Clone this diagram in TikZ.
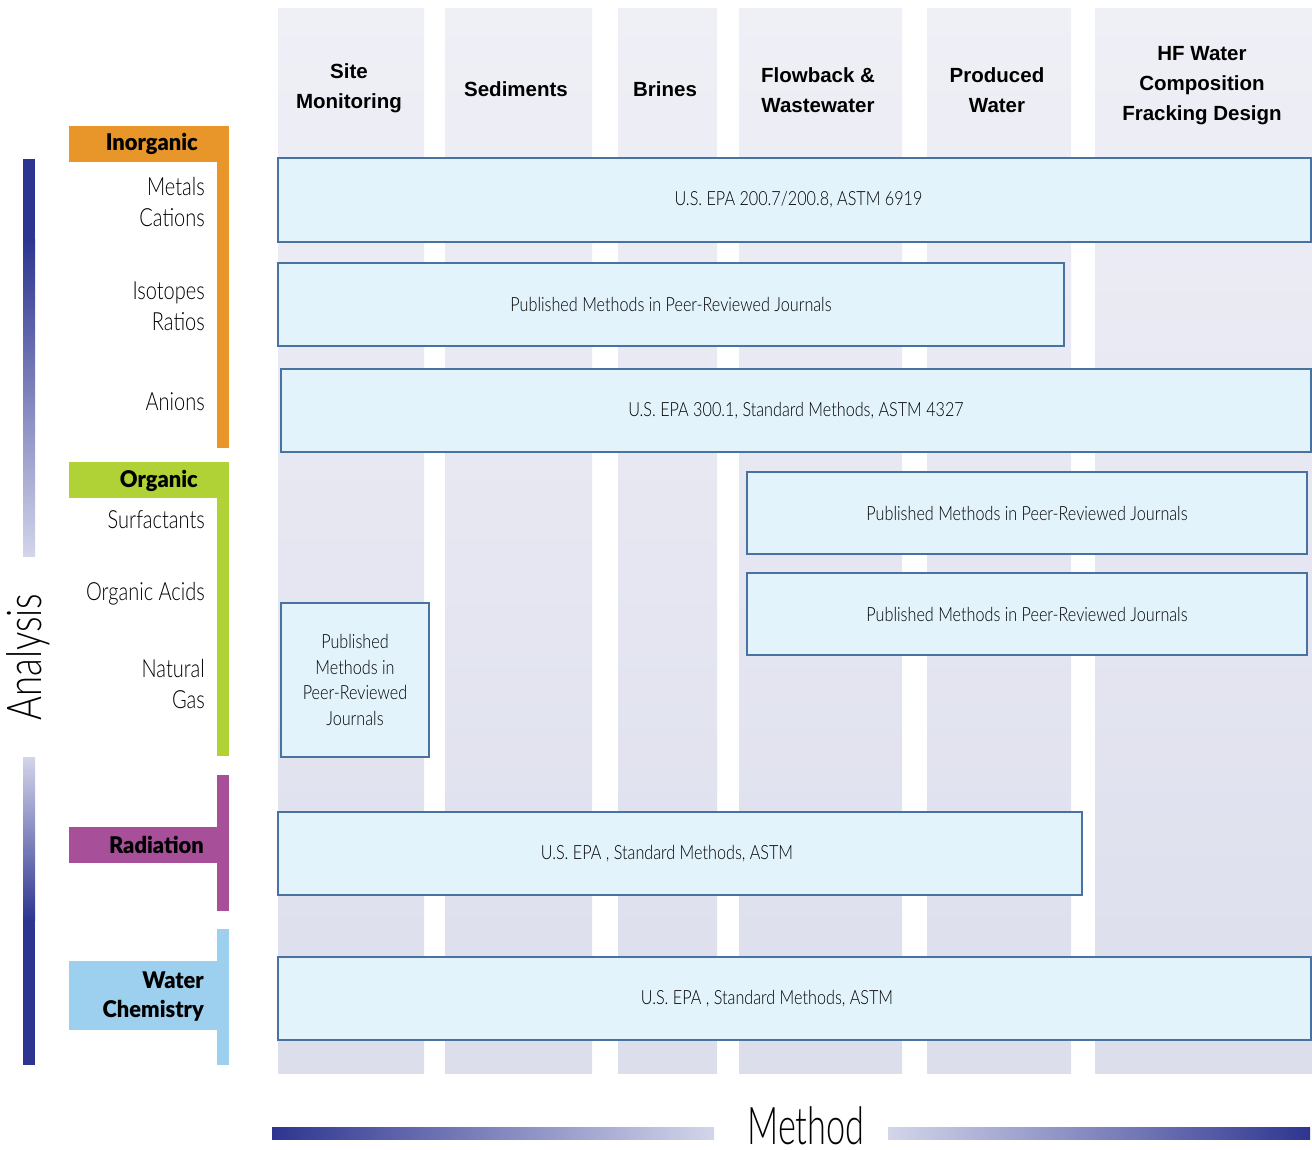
\documentclass[tikz,border=0pt]{standalone}
\usepackage{fontspec}
\setmainfont{Liberation Sans}
\newfontfamily\thinfont{Lato Light}[FakeStretch=0.8]
\newfontfamily\boxfont{Lato Light}[FakeStretch=0.83]
\newfontfamily\methodfont{Lato Light}[FakeStretch=0.66]
\newfontfamily\analysisfont{Lato Light}[FakeStretch=0.76]
\newfontfamily\heavyfont{Lato Black}[FakeStretch=0.95]
\usetikzlibrary{positioning}

\definecolor{laneA}{HTML}{EFEFF6}
\definecolor{laneB}{HTML}{DCDEEC}
\definecolor{navy}{HTML}{2E3590}
\definecolor{pale}{HTML}{D3D5EA}
\definecolor{boxfill}{HTML}{E2F3FC}
\definecolor{boxline}{HTML}{4A72A0}
\definecolor{inorg}{HTML}{E8952A}
\definecolor{org}{HTML}{B0D236}
\definecolor{radi}{HTML}{A84F9A}
\definecolor{water}{HTML}{9DD0EF}

\tikzset{
	lanebg/.style={top color=laneA, bottom color=laneB, draw=none},
	methodbox/.style={draw=boxline, line width=2pt, fill=boxfill, inner sep=0pt, align=center,
		font=\boxfont\fontsize{19.5}{25.5}\selectfont},
	lanehead/.style={font=\bfseries\fontsize{20.5}{30}\selectfont, align=center},
	grouptag/.style={font=\heavyfont\fontsize{23}{29}\selectfont, align=right, anchor=east, inner sep=0pt},
	itemlabel/.style={font=\thinfont\fontsize{25}{31}\selectfont, align=right, anchor=east, inner sep=0pt},
}

\begin{document}
\begin{tikzpicture}[x=1pt, y=-1pt]
		\useasboundingbox (0,0) rectangle (1312,1150);
		
		% method lanes
		\foreach \xa/\xb in {278/424, 445/592, 618/717, 739/902, 927/1071, 1095/1312}
			\fill[lanebg] (\xa,9) rectangle (\xb,1073);
		
		\node[lanehead] (site) at (349,88) {Site\\Monitoring};
		\node[lanehead] (sediments) at (516,89) {Sediments};
		\node[lanehead] (brines) at (665,89) {Brines};
		\node[lanehead] (flowback) at (818,90) {Flowback \&\\Wastewater};
		\node[lanehead] (produced) at (997,90) {Produced\\Water};
		\node[lanehead] (hfwater) at (1202,86) {HF Water\\Composition\\Fracking Design};
		
		% methods
		\node[methodbox, minimum width=1033pt, minimum height=84pt] (epaA) at (794.5,200) {\hspace*{8pt}U.S. EPA 200.7/200.8, ASTM 6919};
		\node[methodbox, minimum width=786pt, minimum height=83pt] (pubA) at (671,304.5) {\raisebox{-4pt}{Published Methods in Peer-Reviewed Journals}};
		\node[methodbox, minimum width=1030pt, minimum height=83pt] (epaB) at (796,410.5) {\raisebox{-3pt}{U.S. EPA 300.1, Standard Methods, ASTM 4327}};
		\node[methodbox, minimum width=560pt, minimum height=82pt] (pubB) at (1027,513) {\raisebox{-3pt}{Published Methods in Peer-Reviewed Journals}};
		\node[methodbox, minimum width=560pt, minimum height=82pt] (pubC) at (1027,614) {\raisebox{-3pt}{Published Methods in Peer-Reviewed Journals}};
		\node[methodbox, minimum width=148pt, minimum height=154pt] (pubD) at (355,680) {Published\\Methods in\\Peer-Reviewed\\Journals};
		\node[methodbox, minimum width=804pt, minimum height=83pt] (epaC) at (680,853.5) {U.S. EPA , Standard Methods, ASTM\hspace*{26pt}};
		\node[methodbox, minimum width=1033pt, minimum height=83pt] (epaD) at (794.5,998.5) {U.S. EPA , Standard Methods, ASTM\hspace*{55pt}};
		
		% analysis axis
		\fill[navy] (23,159) rectangle (35,240);
		\shade[top color=navy, bottom color=pale] (23,240) rectangle (35,556);
		\shade[top color=pale, bottom color=navy] (23,757) rectangle (35,920);
		\fill[navy] (23,920) rectangle (35,1065);
		\node[rotate=90, inner sep=0pt, font=\analysisfont\fontsize{48}{48}\selectfont] (analysis) at (28,657) {Analysis};
		
		% method axis
		\shade[left color=navy, right color=pale] (272,1127) rectangle (714,1139);
		\shade[left color=pale, right color=navy] (888,1127) rectangle (1310,1139);
		\node[anchor=base, inner sep=0pt, font=\methodfont\fontsize{52}{52}\selectfont] (method) at (806,1144) {Method};
		
		% inorganic
		\fill[inorg] (69,126) rectangle (229,162);
		\fill[inorg] (217,126) rectangle (229,448);
		\node[grouptag] (inorganic) at (198,144) {Inorganic};
		\node[itemlabel] (metals) at (205,202.5) {Metals\\Cations};
		\node[itemlabel] (isotopes) at (205,306.5) {Isotopes\\Ratios};
		\node[itemlabel] (anions) at (205,402) {Anions};
		
		% organic
		\fill[org] (69,462) rectangle (229,498);
		\fill[org] (217,462) rectangle (229,756);
		\node[grouptag] (organic) at (198,481) {Organic};
		\node[itemlabel] (surfactants) at (205,520) {Surfactants};
		\node[itemlabel] (acids) at (205,594) {Organic Acids};
		\node[itemlabel] (gas) at (205,684) {Natural\\Gas};
		
		% radiation
		\fill[radi] (217,775) rectangle (229,911);
		\fill[radi] (69,827) rectangle (217,863);
		\node[grouptag] (radiation) at (204,845) {Radiation};
		
		% water chemistry
		\fill[water] (217,929) rectangle (229,1065);
		\fill[water] (69,961) rectangle (217,1030);
		\node[grouptag] (waterchem) at (204,997) {Water\\Chemistry};
	\end{tikzpicture}
\end{document}
